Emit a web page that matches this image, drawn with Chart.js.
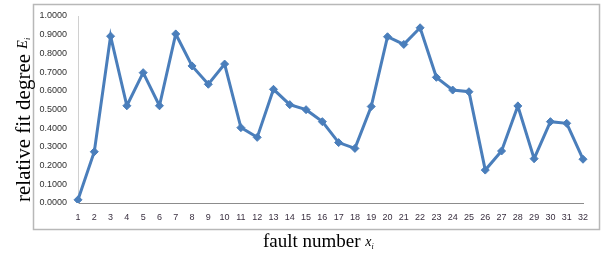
<!DOCTYPE html>
<html>
<head>
<meta charset="utf-8">
<script src="https://cdn.jsdelivr.net/npm/chart.js@4.4.1/dist/chart.umd.min.js"></script>
<style>
  html, body { margin: 0; padding: 0; background: #fff; }
  #wrap { width: 605px; height: 257px; position: relative; }
</style>
</head>
<body>
<div id="wrap"><canvas id="chart-line"></canvas></div>
<script>
// fault numbers 1..32 and relative fit degree
const faultNumbers = ['1', '2', '3', '4', '5', '6', '7', '8', '9', '10', '11', '12', '13', '14', '15', '16',
    '17', '18', '19', '20', '21', '22', '23', '24', '25', '26', '27', '28', '29', '30', '31', '32'];
const fitDegree = [0.017, 0.274, 0.892, 0.520, 0.697, 0.520, 0.904, 0.733, 0.635, 0.743, 0.403, 0.351,
    0.608, 0.526, 0.499, 0.435, 0.323, 0.292, 0.516, 0.889, 0.848, 0.937, 0.672, 0.604, 0.595, 0.176,
    0.278, 0.519, 0.237, 0.435, 0.426, 0.234];
const yTicks = [0, 0.1, 0.2, 0.3, 0.4, 0.5, 0.6, 0.7, 0.8, 0.9, 1.0];

const serif = "'Liberation Serif', 'Times New Roman', serif";

// frame + axis titles (titles need a subscript, so draw them by hand)
const decorations = {
    id: 'decorations',
    beforeDraw(chart) {
        const ctx = chart.ctx;
        ctx.save();
        ctx.fillStyle = '#fff';
        ctx.fillRect(0, 0, chart.width, chart.height);
        ctx.strokeStyle = '#b8b8b8';
        ctx.lineWidth = 1.5;
        ctx.strokeRect(33.5, 4.5, 566, 225);
        ctx.restore();
    },
    afterDraw(chart) {
        const ctx = chart.ctx;
        const area = chart.chartArea;
        ctx.save();
        ctx.fillStyle = '#000';
        ctx.textBaseline = 'alphabetic';

        // y title
        ctx.translate(30, area.bottom - 1);
        ctx.rotate(-Math.PI / 2);
        ctx.font = '21px ' + serif;
        const yMain = 'relative fit degree ';
        ctx.fillText(yMain, 0, 0);
        let w = ctx.measureText(yMain).width;
        ctx.font = 'italic 14px ' + serif;
        ctx.fillText('E', w, -3);
        w += ctx.measureText('E').width;
        ctx.font = 'italic 8px ' + serif;
        ctx.fillText('i', w, 0);
        ctx.restore();

        // x title
        ctx.save();
        ctx.fillStyle = '#000';
        ctx.font = '19px ' + serif;
        const xMain = 'fault number ';
        const mw = ctx.measureText(xMain).width;
        ctx.font = 'italic 14px ' + serif;
        const xw = ctx.measureText('x').width;
        let x0 = 263;
        ctx.font = '19px ' + serif;
        ctx.fillText(xMain, x0, 247);
        ctx.font = 'italic 14px ' + serif;
        ctx.fillText('x', x0 + mw, 246);
        ctx.font = 'italic 8px ' + serif;
        ctx.fillText('i', x0 + mw + xw, 249);
        ctx.restore();
    }
};

const ctx = document.getElementById('chart-line').getContext('2d');
new Chart(ctx, {
    type: 'line',
    data: {
        labels: faultNumbers,
        datasets: [{
            label: 'relative fit degree',
            data: fitDegree,
            borderColor: '#4a7ebb',
            backgroundColor: '#4a7ebb',
            borderWidth: 3,
            pointStyle: 'rectRot',
            pointRadius: 4,
            pointBorderWidth: 1,
            tension: 0,
        }]
    },
    options: {
        responsive: true,
        maintainAspectRatio: false,
        animation: false,
        layout: { padding: { left: 0, right: 22, top: 16, bottom: 0 } },
        plugins: {
            legend: { display: false },
            tooltip: { enabled: false }
        },
        scales: {
            x: {
                offset: false,
                grid: { display: false },
                border: { display: true, color: '#8c8c8c', width: 1 },
                ticks: {
                    color: '#3a3040',
                    font: { family: "'Liberation Sans', Arial, sans-serif", size: 9 },
                    padding: 1,
                    maxRotation: 0,
                    autoSkip: false
                },
                afterFit: scale => { scale.height = 54; }
            },
            y: {
                min: 0,
                max: 1,
                afterBuildTicks: scale => { scale.ticks = yTicks.map(v => ({ value: v })); },
                grid: { display: false },
                border: { display: true, color: '#d0d0d0', width: 1 },
                ticks: {
                    color: '#303030',
                    font: { family: "'Liberation Sans', Arial, sans-serif", size: 9 },
                    padding: 3,
                    callback: v => Number(v).toFixed(4)
                },
                afterFit: scale => { scale.width = 78; }
            }
        }
    },
    plugins: [decorations]
});
</script>
</body>
</html>
